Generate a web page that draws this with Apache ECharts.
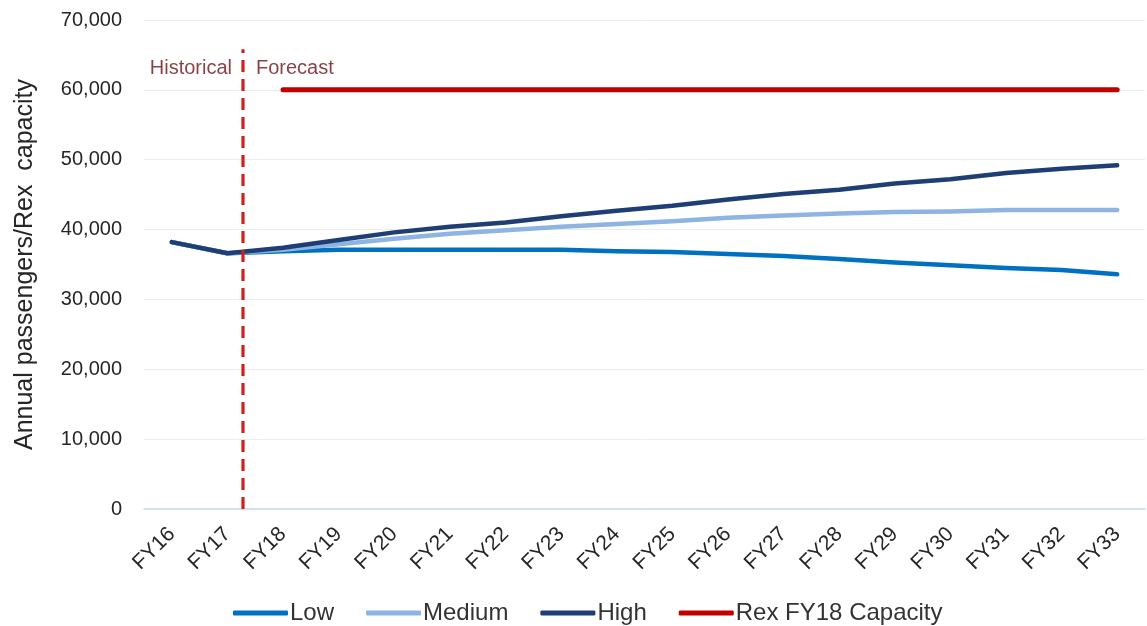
<!DOCTYPE html>
<html>
<head>
<meta charset="utf-8">
<style>
  html, body { margin: 0; padding: 0; background: #ffffff; }
  #chart { width: 1147px; height: 626px; }
</style>
<script src="https://cdn.jsdelivr.net/npm/echarts@6/dist/echarts.min.js"></script>
</head>
<body>
<div id="chart"></div>
<script>
// Financial years on the category axis
const years = ['FY16','FY17','FY18','FY19','FY20','FY21','FY22','FY23','FY24','FY25',
               'FY26','FY27','FY28','FY29','FY30','FY31','FY32','FY33'];

// Annual passenger scenarios (FY16–FY17 are actuals shared by all scenarios)
const lowSeries    = [38200, 36600, 36900, 37100, 37100, 37100, 37100, 37100, 36900, 36800,
                      36500, 36200, 35800, 35300, 34900, 34500, 34200, 33600];
const mediumSeries = [38200, 36600, 37100, 37900, 38700, 39400, 39900, 40400, 40800, 41200,
                      41700, 42000, 42300, 42500, 42600, 42800, 42800, 42800];
const highSeries   = [38200, 36600, 37400, 38500, 39600, 40400, 41000, 41900, 42700, 43400,
                      44300, 45100, 45700, 46600, 47200, 48100, 48700, 49200];

// Rex seat capacity from FY18 onward
const capacitySeries = [null, null, 60000, 60000, 60000, 60000, 60000, 60000, 60000, 60000,
                        60000, 60000, 60000, 60000, 60000, 60000, 60000, 60000];

// Y axis range
const yMin = 0, yMax = 70000, yStep = 10000;

// Historical / forecast divider, in category-index units, and its top value
const dividerAt = 1.28;
const dividerTop = 65800;
const dividerLabelValue = 63100;

const seriesNames = ['Low', 'Medium', 'High', 'Rex FY18 Capacity'];
const seriesColors = ['#0070c0', '#8eb4e3', '#1f3f74', '#c00000'];
const seriesData = [lowSeries, mediumSeries, highSeries, capacitySeries];

const FONT = 'Liberation Sans, Arial, sans-serif';

const chart = echarts.init(document.getElementById('chart'), null, { renderer: 'canvas' });

const lineSeries = seriesNames.map((name, i) => ({
  name: name,
  type: 'line',
  data: seriesData[i],
  xAxisIndex: 0,
  yAxisIndex: 0,
  showSymbol: false,
  symbol: 'none',
  connectNulls: false,
  lineStyle: { color: seriesColors[i], width: i === 3 ? 5 : 4.5, cap: 'round', join: 'round' },
  itemStyle: { color: seriesColors[i] },
  z: 3 + i,
  silent: true
}));

const option = {
  backgroundColor: '#ffffff',
  animation: false,
  textStyle: { fontFamily: FONT },
  grid: { left: 144, right: 2, top: 20, bottom: 117, containLabel: false },
  legend: {
    data: seriesNames,
    left: 228,
    top: 596,
    itemWidth: 55,
    itemHeight: 5,
    itemGap: 32,
    icon: 'roundRect',
    textStyle: { color: '#333333', fontSize: 24, fontFamily: FONT, padding: [0, 0, 0, -3] }
  },
  xAxis: [
    {
      type: 'category',
      data: years,
      boundaryGap: true,
      axisLine: { show: true, lineStyle: { color: '#c6d9f0', width: 1.5 } },
      axisTick: { show: false },
      axisLabel: {
        rotate: 45,
        margin: 22,
        interval: 0,
        color: '#262626',
        fontSize: 21,
        fontFamily: FONT
      },
      splitLine: { show: false }
    },
    {
      type: 'value',
      min: -0.5,
      max: years.length - 0.5,
      show: false
    }
  ],
  yAxis: {
    type: 'value',
    min: yMin,
    max: yMax,
    interval: yStep,
    name: 'Annual passengers/Rex  capacity',
    nameLocation: 'middle',
    nameGap: 106,
    nameRotate: 90,
    nameTextStyle: { color: '#262626', fontSize: 25, fontFamily: FONT },
    axisLine: { show: false },
    axisTick: { show: false },
    axisLabel: {
      margin: 22,
      color: '#262626',
      fontSize: 20,
      fontFamily: FONT,
      formatter: v => v.toLocaleString('en-US')
    },
    splitLine: { show: true, lineStyle: { color: '#ececec', width: 1 } }
  },
  series: lineSeries.concat([
    {
      name: 'divider',
      type: 'line',
      xAxisIndex: 1,
      yAxisIndex: 0,
      data: [[dividerAt, yMin], [dividerAt, dividerTop]],
      showSymbol: false,
      symbol: 'none',
      lineStyle: { color: '#d0201c', width: 3.2, type: [12, 7] },
      z: 10,
      silent: true
    },
    {
      name: 'phaseLabels',
      type: 'scatter',
      xAxisIndex: 1,
      yAxisIndex: 0,
      symbolSize: 0,
      data: [
        { value: [dividerAt, dividerLabelValue], label: { show: true, formatter: 'Historical', position: 'left', distance: 11 } },
        { value: [dividerAt, dividerLabelValue], label: { show: true, formatter: 'Forecast', position: 'right', distance: 13 } }
      ],
      label: { color: '#6b1014', fontSize: 20, fontFamily: FONT },
      z: 11,
      silent: true
    }
  ])
};

chart.setOption(option);
</script>
</body>
</html>
